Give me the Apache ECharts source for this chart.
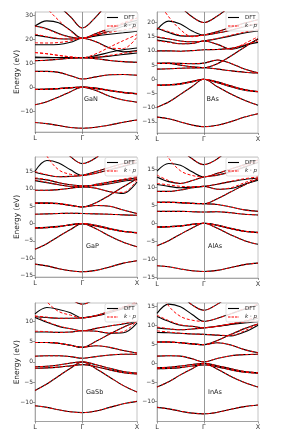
<!DOCTYPE html>
<html><head><meta charset="utf-8">
<script src="https://cdn.jsdelivr.net/npm/echarts@6/dist/echarts.min.js"></script>
<style>html,body{margin:0;padding:0;background:#fff}#c{width:287px;height:431px}</style>
</head><body><div id="c"></div>
<script>
// k-path distances (2π/a): L -> Γ -> X
const kPath = [0, 0.2165, 0.433, 0.6495, 0.866, 1.116, 1.366, 1.616, 1.866];
const kTicks = [0, 0.866, 1.866];
const kLabels = ['L', 'Γ', 'X'];
const materials = ['GaN', 'BAs', 'GaP', 'AlAs', 'GaSb', 'InAs'];

// energy ranges and tick labels (eV)
const GaN_range = [-18.8, 31.5], GaN_ticks = [-10, 0, 10, 20, 30];
const BAs_range = [-18.9, 23.7], BAs_ticks = [-15, -10, -5, 0, 5, 10, 15, 20];
const GaP_range = [-15.4, 19.2], GaP_ticks = [-15, -10, -5, 0, 5, 10, 15];
const AlAs_range = [-15.1, 18.3], AlAs_ticks = [-15, -10, -5, 0, 5, 10, 15];
const GaSb_range = [-14.8, 14.6], GaSb_ticks = [-10, -5, 0, 5, 10];
const InAs_range = [-15.2, 15.8], InAs_ticks = [-10, -5, 0, 5, 10, 15];

// ---- GaN ----
const GaN_low = [
  [-14.8,-15.3,-16.1,-16.9,-17.2,-16.8,-15.9,-14.7,-13.8],
  [-7.4,-6.1,-4.1,-1.9,0,-1.4,-3.8,-5.4,-6.3],
  [-0.9,-0.8,-0.6,-0.3,0,-0.6,-1.5,-2.3,-2.7],
  [-1.0,-0.9,-0.6,-0.2,0,-0.4,-1.3,-2.2,-2.8],
  [6.6,6.6,6.2,4.8,3.4,4.3,5.2,5.3,5.0],
  [11.1,11.3,11.7,12.1,12.3,11.9,11.2,10.7,10.4]
];
const GaN_dftHigh = [
  [12.3,12.3,12.3,12.3,12.3,12.5,13.0,13.7,14.3],
  [12.6,12.5,12.4,12.3,12.3,13.2,14.6,15.7,16.4],
  [17.8,17.8,17.9,18.8,20.5,19.0,16.4,14.8,15.3],
  [21.8,21.0,20.3,20.2,20.5,21.5,22.2,22.8,23.4],
  [25.6,27.8,27.0,23.8,20.5,21.8,23.5,25.5,27.0],
  [25.6,24.5,22.5,21.0,20.5,22.5,24.5,26.5,28.0],
  [42,38,34,29.5,24.8,29.5,36,40,43]
];
const GaN_kpHigh = [
  [14.5,14.0,13.3,12.7,12.3,12.6,13.3,14.2,15.0],
  [14.5,14.0,13.3,12.7,12.3,14.0,16.8,19.5,22.0],
  [18.6,18.5,18.7,19.4,20.5,19.0,16.4,16.2,21.0],
  [22.2,21.2,20.4,20.2,20.5,21.8,23.0,24.0,25.0],
  [38,33,28,23.5,20.5,22,24,26.5,29],
  [25.6,24.3,22.3,20.9,20.5,22.5,24.8,27,29],
  [42,38,34,29.5,24.8,29.5,36,40,43]
];
// ---- BAs ----
const BAs_low = [
  [-13.3,-13.9,-15.0,-16.1,-16.7,-16.2,-14.9,-13.3,-12.1],
  [-9.8,-8.0,-5.3,-2.5,0,-2.6,-5.2,-7.4,-9.1],
  [-2.0,-1.9,-1.5,-0.7,0,-1.2,-2.6,-3.8,-4.4],
  [-2.1,-2.0,-1.7,-0.9,0,-0.9,-2.3,-3.6,-4.3],
  [3.6,3.7,3.9,4.0,4.1,3.6,3.0,2.5,2.2],
  [5.6,5.6,5.0,4.4,4.1,5.5,8.2,11.3,14.3],
  [5.6,5.7,5.6,5.5,5.7,6.8,5.6,3.6,2.3]
];
const BAs_dftHigh = [
  [10.0,10.0,9.9,10.1,10.4,10.5,10.9,12.0,13.0],
  [13.8,13.2,12.5,12.6,13.5,12.3,10.6,11.8,14.1],
  [14.8,14.2,13.5,13.2,13.5,14.3,15.3,16.3,17.0],
  [17.5,20.5,19.5,17.0,15.6,16.3,17.3,18.5,19.5],
  [18.0,16.5,15.3,15.2,15.6,16.8,18.3,19.8,21.0],
  [32,29,25.5,22.0,20.0,22.3,25.8,29,32]
];
const BAs_kpHigh = [
  [10.0,10.0,9.9,10.1,10.4,10.5,10.9,12.2,13.4],
  [13.6,13.0,12.5,12.6,13.5,12.3,10.6,12.6,15.0],
  [15.0,14.3,13.5,13.2,13.5,14.4,15.5,16.6,17.5],
  [28,22,17.5,15.0,15.6,16.3,17.4,18.7,19.8],
  [18.0,16.8,15.5,15.2,15.6,16.8,18.3,19.8,21.0],
  [32,29,25.5,22.0,20.0,22.3,25.8,29,32]
];
// ---- GaP ----
const GaP_low = [
  [-11.7,-12.2,-13.0,-13.6,-13.9,-13.5,-12.5,-11.4,-10.7],
  [-7.4,-5.8,-3.7,-1.7,0,-1.5,-3.6,-5.4,-6.7],
  [-1.2,-1.1,-0.8,-0.4,0,-0.7,-1.6,-2.3,-2.6],
  [-1.3,-1.2,-0.9,-0.3,0,-0.5,-1.4,-2.2,-2.7],
  [2.7,2.8,2.9,3.0,2.9,2.8,2.7,2.5,2.4],
  [5.9,5.9,5.8,5.3,4.8,5.2,5.0,3.9,2.9],
  [5.9,5.9,5.7,5.2,4.8,6.0,8.2,10.6,12.9]
];
const GaP_dftHigh = [
  [9.6,9.6,9.8,10.2,10.6,10.2,9.2,8.7,12.0],
  [12.4,11.8,11.2,10.7,10.6,11.3,12.0,12.6,13.2],
  [13.0,12.6,11.8,11.2,10.9,11.0,11.5,12.2,12.7],
  [15.1,18.2,17.5,15.5,13.9,14.5,15.5,16.5,17.5],
  [14.8,14.0,13.5,13.6,13.9,15.0,16.2,17.3,18.3],
  [30,26,22.5,19.3,17.3,19.0,22.5,26,30]
];
const GaP_kpHigh = [
  [9.6,9.6,9.8,10.2,10.6,10.2,9.2,9.0,12.6],
  [12.6,11.9,11.2,10.7,10.6,11.3,12.1,12.8,13.5],
  [13.2,12.7,11.8,11.2,10.9,11.0,11.6,12.4,13.0],
  [26,19.5,15.5,14.2,13.9,14.5,15.6,16.7,17.8],
  [15.0,14.1,13.5,13.6,13.9,15.0,16.2,17.3,18.3],
  [30,26,22.5,19.3,17.3,19.0,22.5,26,30]
];
// ---- AlAs ----
const AlAs_low = [
  [-11.7,-12.0,-12.6,-13.1,-13.3,-13.0,-12.2,-11.4,-11.0],
  [-6.2,-4.8,-3.0,-1.3,0,-1.4,-3.2,-4.8,-5.8],
  [-1.0,-0.9,-0.7,-0.3,0,-0.6,-1.5,-2.2,-2.5],
  [-1.1,-1.0,-0.8,-0.3,0,-0.5,-1.4,-2.2,-2.6],
  [3.3,3.3,3.3,3.2,3.1,3.2,2.9,2.5,2.3],
  [5.8,5.8,5.7,5.5,5.4,5.2,4.5,3.7,3.3],
  [5.8,5.8,5.7,5.5,5.4,6.8,8.7,10.6,12.2]
];
const AlAs_dftHigh = [
  [8.8,8.8,9.2,9.8,10.2,9.4,9.6,10.8,11.9],
  [10.7,10.2,9.8,10.0,10.2,10.8,11.5,12.1,12.5],
  [12.8,11.5,11.0,11.8,12.8,13.3,14.2,15.5,16.8],
  [14.4,16.5,16.0,14.2,12.8,13.8,15.0,16.2,17.5],
  [28,24,20.5,17.8,16.2,17.8,21,24,28]
];
const AlAs_kpHigh = [
  [8.8,8.8,9.2,9.8,10.2,9.4,9.8,11.2,12.5],
  [11.0,10.6,10.2,10.1,10.2,10.8,11.6,12.3,12.8],
  [13.3,11.8,11.0,11.8,12.8,13.3,14.3,15.7,17.0],
  [24,18,14.5,13.2,12.8,13.8,15.0,16.2,17.5],
  [28,24,20.5,17.8,16.2,17.8,21,24,28]
];
// ---- GaSb ----
const GaSb_low = [
  [-10.9,-11.3,-11.9,-12.4,-12.6,-12.2,-11.3,-10.4,-9.8],
  [-7.1,-5.5,-3.5,-1.6,0,-1.7,-3.8,-5.9,-7.5],
  [-1.2,-1.1,-0.8,-0.3,0,-0.7,-1.6,-2.4,-2.8],
  [-1.6,-1.5,-1.3,-1.0,-0.7,-1.2,-2.0,-2.7,-3.0],
  [1.4,1.5,1.5,1.3,0.9,1.3,1.7,1.9,1.9],
  [4.8,4.8,4.6,4.1,3.6,4.0,3.6,2.8,2.2],
  [4.8,4.8,4.6,4.1,3.6,5.1,6.9,8.6,10.0]
];
const GaSb_dftHigh = [
  [7.4,7.4,7.3,7.4,7.7,7.6,7.1,7.2,9.6],
  [11.0,9.8,8.8,8.2,7.7,8.3,8.9,9.4,10.0],
  [11.9,13.5,13.0,12.2,10.9,11.5,12.5,13.5,14.5],
  [11.2,11.0,10.8,10.8,10.9,11.4,12.2,13.2,14.2],
  [24,21,18,15.6,14.3,15.8,18.5,21,24]
];
const GaSb_kpHigh = [
  [7.6,7.5,7.3,7.4,7.7,7.6,7.2,7.5,10.2],
  [11.4,10.0,8.9,8.2,7.7,8.3,8.9,9.5,10.3],
  [20,15,12.5,11.6,10.9,11.5,12.6,13.7,14.8],
  [11.4,11.1,10.8,10.8,10.9,11.4,12.3,13.4,14.5],
  [24,21,18,15.6,14.3,15.8,18.5,21,24]
];
// ---- InAs ----
const InAs_low = [
  [-11.5,-11.9,-12.5,-13.0,-13.2,-12.8,-12.0,-11.3,-10.9],
  [-6.2,-4.8,-3.0,-1.4,0,-1.5,-3.4,-5.0,-6.2],
  [-1.1,-1.0,-0.7,-0.3,0,-0.6,-1.4,-2.1,-2.4],
  [-1.4,-1.3,-1.1,-0.7,-0.4,-0.9,-1.7,-2.3,-2.6],
  [1.9,2.0,1.9,1.2,0.4,1.3,2.0,2.3,2.4],
  [5.6,5.6,5.4,5.1,4.9,5.4,4.8,3.6,2.8],
  [5.6,5.6,5.4,5.1,4.9,6.0,7.6,9.1,10.3]
];
const InAs_dftHigh = [
  [8.1,8.0,7.9,7.7,7.6,7.4,7.2,8.2,10.0],
  [9.3,9.0,8.8,9.0,9.3,9.7,10.2,10.6,10.9],
  [12.3,11.0,10.0,9.7,9.3,9.7,10.3,11.0,11.8],
  [13.1,15.5,14.8,12.8,11.0,11.8,13.0,14.2,15.3],
  [24,21,18,15.3,13.9,15.5,18,21,24]
];
const InAs_kpHigh = [
  [8.5,8.2,7.9,7.7,7.6,7.4,7.3,8.5,10.4],
  [9.5,9.1,8.8,9.0,9.3,9.7,10.3,10.8,11.2],
  [12.6,11.2,10.1,9.7,9.3,9.7,10.4,11.2,12.2],
  [20,15,12.3,11.3,11.0,11.8,13.0,14.3,15.5],
  [24,21,18,15.3,13.9,15.5,18,21,24]
];

const panelData = {
  GaN:  {range: GaN_range,  ticks: GaN_ticks,  dft: GaN_low.concat(GaN_dftHigh),   kp: GaN_low.concat(GaN_kpHigh)},
  BAs:  {range: BAs_range,  ticks: BAs_ticks,  dft: BAs_low.concat(BAs_dftHigh),   kp: BAs_low.concat(BAs_kpHigh)},
  GaP:  {range: GaP_range,  ticks: GaP_ticks,  dft: GaP_low.concat(GaP_dftHigh),   kp: GaP_low.concat(GaP_kpHigh)},
  AlAs: {range: AlAs_range, ticks: AlAs_ticks, dft: AlAs_low.concat(AlAs_dftHigh), kp: AlAs_low.concat(AlAs_kpHigh)},
  GaSb: {range: GaSb_range, ticks: GaSb_ticks, dft: GaSb_low.concat(GaSb_dftHigh), kp: GaSb_low.concat(GaSb_kpHigh)},
  InAs: {range: InAs_range, ticks: InAs_ticks, dft: InAs_low.concat(InAs_dftHigh), kp: InAs_low.concat(InAs_kpHigh)}
};

// layout (pixels)
const layout = [
  {left: 35,  top: 12,  width: 102, height: 120},
  {left: 157, top: 12,  width: 101, height: 121},
  {left: 35,  top: 157, width: 102, height: 120},
  {left: 157, top: 157, width: 101, height: 121},
  {left: 35,  top: 303, width: 102, height: 122},
  {left: 157, top: 303, width: 101, height: 122}
];
const labelPos = [[84, 95.5], [206.5, 95.5], [86, 243], [208, 242.5], [86, 389], [208, 389]];

const FONT = 'DejaVu Sans';
const fmtE = v => (v < 0 ? '\u2212' + Math.abs(v) : String(v));
const solidIcon = 'path://M0,0h22v2h-22z';
const dashIcon = 'path://M0,0h5v2h-5z M7,0h5v2h-5z M14,0h5v2h-5z M21,0h1v2h-1z';

const grid = [], xAxis = [], yAxis = [], series = [], legend = [], title = [];
materials.forEach((m, i) => {
  const L = layout[i], d = panelData[m];
  grid.push({left: L.left, top: L.top, width: L.width, height: L.height, show: true,
    borderColor: '#b5b5b5', borderWidth: 0.8, backgroundColor: 'transparent', containLabel: false});
  xAxis.push({type: 'value', gridIndex: i, min: 0, max: kTicks[2],
    axisLine: {show: true, onZero: false, lineStyle: {color: '#999', width: 0.8}},
    axisTick: {show: true, length: 2, customValues: kTicks, lineStyle: {color: '#555', width: 0.6}},
    axisLabel: {show: true, customValues: kTicks, fontSize: 6.5, color: '#333', margin: 2.5, fontFamily: FONT,
      formatter: v => kLabels[kTicks.reduce((b, t, j) => Math.abs(t - v) < Math.abs(kTicks[b] - v) ? j : b, 0)]},
    splitLine: {show: false}});
  yAxis.push({type: 'value', gridIndex: i, min: d.range[0], max: d.range[1],
    name: (i % 2 === 0) ? 'Energy (eV)' : '', nameLocation: 'middle', nameGap: 14, nameMoveOverlap: false,
    nameTextStyle: {fontSize: 7.5, color: '#222', fontFamily: FONT},
    axisLine: {show: true, onZero: false, lineStyle: {color: '#999', width: 0.8}},
    axisTick: {show: true, length: 2, customValues: d.ticks, lineStyle: {color: '#555', width: 0.6}},
    axisLabel: {show: true, customValues: d.ticks, fontSize: 6, color: '#333', margin: 2, fontFamily: FONT, formatter: fmtE},
    splitLine: {show: false}});
  // Γ line
  series.push({type: 'line', xAxisIndex: i, yAxisIndex: i, data: [], silent: true, z: 1,
    markLine: {silent: true, symbol: ['none', 'none'], label: {show: false}, animation: false,
      lineStyle: {color: '#8c8c8c', width: 0.9, type: 'solid'}, data: [{xAxis: kTicks[1]}]}});
  d.dft.forEach(b => series.push({type: 'line', name: 'DFT', xAxisIndex: i, yAxisIndex: i,
    data: kPath.map((k, j) => [k, b[j]]), smooth: 0.35, symbol: 'none', showSymbol: false, silent: true,
    z: 2, lineStyle: {color: '#000', width: 1.1}, itemStyle: {color: '#000'}}));
  d.kp.forEach(b => series.push({type: 'line', name: 'kp', xAxisIndex: i, yAxisIndex: i,
    data: kPath.map((k, j) => [k, b[j]]), smooth: 0.35, symbol: 'none', showSymbol: false, silent: true,
    z: 3, lineStyle: {color: '#ff0000', width: 1, type: [3, 2]}, itemStyle: {color: '#ff0000'}}));
  legend.push({data: [
      {name: 'DFT', icon: solidIcon, itemStyle: {color: '#000'}},
      {name: 'kp', icon: dashIcon, itemStyle: {color: '#ff0000'}}],
    symbolKeepAspect: false,
    orient: 'vertical', left: L.left + L.width - 32, top: L.top + 0.5,
    selectedMode: false, itemWidth: 11, itemHeight: 1.1, itemGap: 2.5, padding: [2, 2, 2, 2],
    backgroundColor: 'rgba(255,255,255,0.85)', borderColor: '#cccccc', borderWidth: 0.6, borderRadius: 2,
    textStyle: {fontSize: 5.5, color: '#222', fontFamily: FONT, padding: [0, 0, 0, 1],
      rich: {i: {fontStyle: 'italic', fontSize: 5.5, fontFamily: FONT, color: '#222'}}},
    formatter: n => n === 'kp' ? '{i|k} \u00b7 {i|p}' : n});
  title.push({text: m, left: labelPos[i][0], top: labelPos[i][1], padding: 0,
    textStyle: {fontSize: 6.5, fontWeight: 'normal', color: '#222', fontFamily: FONT}});
});

const chart = echarts.init(document.getElementById('c'), null, {renderer: 'canvas'});
chart.setOption({animation: false, grid, xAxis, yAxis, series, legend, title});
</script></body></html>
